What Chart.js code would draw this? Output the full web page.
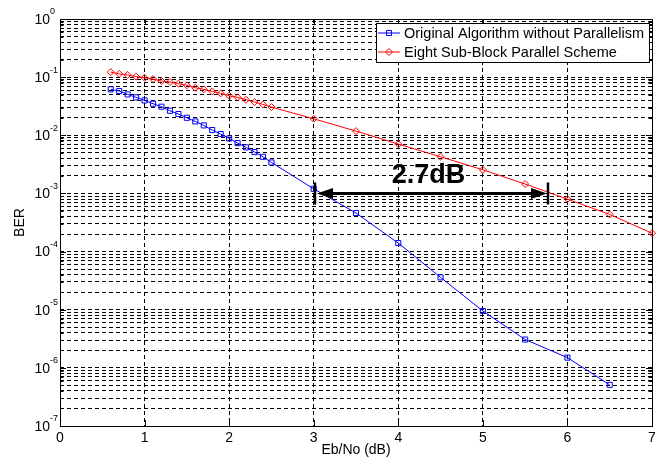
<!DOCTYPE html>
<html>
<head>
<meta charset="utf-8">
<script src="https://cdn.jsdelivr.net/npm/chart.js@4.4.0/dist/chart.umd.min.js"></script>
<style>
  html, body { margin: 0; padding: 0; background: #fff; }
  #wrap { width: 664px; height: 459px; }
</style>
</head>
<body>
<div id="wrap"><canvas id="berChart" width="664" height="459"></canvas></div>
<script>
// values
const ebNoOriginal = [0.6, 0.7, 0.8, 0.9, 1.0, 1.1, 1.2, 1.3, 1.4, 1.5, 1.6, 1.7, 1.8, 1.9, 2.0, 2.1, 2.2, 2.3, 2.4, 2.5,
                      3.0, 3.5, 4.0, 4.5, 5.0, 5.5, 6.0, 6.5];
const berOriginal = [0.0617, 0.0577, 0.0505, 0.0449, 0.0398, 0.0349, 0.031, 0.0264, 0.0232, 0.020, 0.0173, 0.0148, 0.0123, 0.0105, 0.00883,
                     0.00734, 0.0062, 0.00514, 0.00427, 0.00341,
                     0.0012, 4.6e-4, 1.40e-4, 3.6e-5, 9.5e-6, 3.07e-6, 1.5e-6, 5.1e-7];

const ebNoParallel = [0.6, 0.7, 0.8, 0.9, 1.0, 1.1, 1.2, 1.3, 1.4, 1.5, 1.6, 1.7, 1.8, 1.9, 2.0, 2.1, 2.2, 2.3, 2.4, 2.5,
                      3.0, 3.5, 4.0, 4.5, 5.0, 5.5, 6.0, 6.5, 7.0];
const berParallel = [0.122, 0.114, 0.109, 0.102, 0.0977, 0.0927, 0.0857, 0.0824, 0.077, 0.0723, 0.0657, 0.0617, 0.0569, 0.0526, 0.0479,
                     0.0449, 0.0408, 0.0373, 0.034, 0.0306,
                     0.0192, 0.0118, 0.00706, 0.00427, 0.00255, 0.00145, 7.98e-4, 4.35e-4, 2.07e-4];

const seriesNames = ['Original Algorithm without Parallelism', 'Eight Sub-Block Parallel Scheme'];
const xTicks = [0, 1, 2, 3, 4, 5, 6, 7];
const yDecades = [-7, -6, -5, -4, -3, -2, -1, 0];

// the 2.7dB gap annotation
const gainLabel = '2.7dB';
const gainFrom = 3.015;
const gainTo = 5.77;
const gainLevel = 1e-3;

const FONT = '"Liberation Sans", Arial, sans-serif';

function logTicks() {
    let out = [];
    for (const e of yDecades) {
        if (e === 0) { out.push(1); break; }
        for (let m = 1; m <= 9; m++) {
            out.push(Number((m * Math.pow(10, e)).toPrecision(3)));
        }
    }
    return out;
}

function toPoints(xs, ys) {
    return xs.map((x, i) => ({x: x, y: ys[i]}));
}

function drawMarker(ctx, style, x, y, r, color) {
    ctx.save();
    ctx.strokeStyle = color;
    ctx.lineWidth = 1;
    ctx.beginPath();
    if (style === 'rect') {
        const s = r * Math.SQRT1_2;
        ctx.rect(x - s, y - s, 2 * s, 2 * s);
    } else {
        ctx.moveTo(x, y - r);
        ctx.lineTo(x + r, y);
        ctx.lineTo(x, y + r);
        ctx.lineTo(x - r, y);
        ctx.closePath();
    }
    ctx.stroke();
    ctx.restore();
}

const matlabLook = {
    id: 'matlab_look',
    beforeDatasetsDraw: (chart) => {
        const {ctx, chartArea: a, scales} = chart;
        ctx.save();
        ctx.strokeStyle = '#000';
        ctx.lineWidth = 1;
        // inner tick marks on all four sides
        ctx.beginPath();
        for (const t of scales.y.ticks) {
            const py = Math.round(scales.y.getPixelForValue(t.value)) + 0.5;
            const len = Math.abs(Math.log10(t.value) % 1) < 1e-6 ? 6 : 3.5;
            ctx.moveTo(a.left, py); ctx.lineTo(a.left + len, py);
            ctx.moveTo(a.right, py); ctx.lineTo(a.right - len, py);
        }
        for (const v of xTicks) {
            const px = Math.round(scales.x.getPixelForValue(v)) + 0.5;
            ctx.moveTo(px, a.bottom); ctx.lineTo(px, a.bottom - 6);
            ctx.moveTo(px, a.top); ctx.lineTo(px, a.top + 6);
        }
        ctx.stroke();
        // frame
        ctx.strokeRect(Math.round(a.left) + 0.5, Math.round(a.top) + 0.5,
                       Math.round(a.right - a.left), Math.round(a.bottom - a.top));
        ctx.restore();
    },
    afterDraw: (chart) => {
        const {ctx, chartArea: a, scales} = chart;
        ctx.save();

        // y tick labels 10^n
        ctx.fillStyle = '#000';
        ctx.textBaseline = 'middle';
        for (const e of yDecades) {
            const py = scales.y.getPixelForValue(Math.pow(10, e));
            ctx.font = '14px ' + FONT;
            ctx.textAlign = 'right';
            ctx.fillText('10', a.left - 10, py + 1);
            ctx.font = '9px ' + FONT;
            ctx.textAlign = 'left';
            ctx.fillText(String(e), a.left - 10, py - 7);
        }

        // legend box
        const lx = 376, ly = 23, lw = 273, lh = 39;
        ctx.fillStyle = '#fff';
        ctx.fillRect(lx, ly, lw, lh);
        ctx.strokeStyle = '#000';
        ctx.lineWidth = 1;
        ctx.strokeRect(lx + 0.5, ly + 0.5, lw, lh);
        chart.data.datasets.forEach((ds, i) => {
            const ry = ly + 10 + i * 19;
            ctx.strokeStyle = ds.borderColor;
            ctx.beginPath();
            ctx.moveTo(lx + 2, ry);
            ctx.lineTo(lx + 24, ry);
            ctx.stroke();
            drawMarker(ctx, ds.pointStyle, lx + 13, ry, ds.pointRadius, ds.borderColor);
            ctx.fillStyle = '#000';
            ctx.font = '14.5px ' + FONT;
            ctx.textAlign = 'left';
            ctx.textBaseline = 'middle';
            ctx.fillText(ds.label, lx + 28, ry + 1);
        });

        // gain arrow
        const x1 = scales.x.getPixelForValue(gainFrom);
        const x2 = scales.x.getPixelForValue(gainTo);
        const gy = scales.y.getPixelForValue(gainLevel);
        ctx.strokeStyle = '#000';
        ctx.fillStyle = '#000';
        ctx.lineWidth = 3;
        ctx.beginPath();
        ctx.moveTo(x1 + 10, gy);
        ctx.lineTo(x2 - 10, gy);
        ctx.stroke();
        ctx.lineWidth = 2.5;
        ctx.beginPath();
        ctx.moveTo(x1, gy - 11); ctx.lineTo(x1, gy + 11);
        ctx.moveTo(x2, gy - 11); ctx.lineTo(x2, gy + 11);
        ctx.stroke();
        ctx.beginPath();
        ctx.moveTo(x1 + 2, gy); ctx.lineTo(x1 + 18, gy - 5.5); ctx.lineTo(x1 + 18, gy + 5.5); ctx.closePath();
        ctx.moveTo(x2 - 1, gy); ctx.lineTo(x2 - 17, gy - 5.5); ctx.lineTo(x2 - 17, gy + 5.5); ctx.closePath();
        ctx.fill();
        ctx.font = 'bold 27px ' + FONT;
        ctx.textAlign = 'center';
        ctx.textBaseline = 'middle';
        ctx.fillText(gainLabel, (x1 + x2) / 2 - 3, gy - 18);

        ctx.restore();
    }
};

const gridStyle = {
    color: '#000',
    lineWidth: 1,
    drawTicks: false,
    tickLength: 0
};

const ctx = document.getElementById('berChart').getContext('2d');
new Chart(ctx, {
    type: 'line',
    data: {
        datasets: [
            {
                label: seriesNames[0],
                data: toPoints(ebNoOriginal, berOriginal),
                borderColor: '#0000ff',
                backgroundColor: 'rgba(0,0,0,0)',
                borderWidth: 1,
                pointStyle: 'rect',
                pointRadius: 3.6,
                pointBorderWidth: 1,
                pointBackgroundColor: 'rgba(0,0,0,0)',
                tension: 0,
                clip: false
            },
            {
                label: seriesNames[1],
                data: toPoints(ebNoParallel, berParallel),
                borderColor: '#ff0000',
                backgroundColor: 'rgba(0,0,0,0)',
                borderWidth: 1,
                pointStyle: 'rectRot',
                pointRadius: 3.5,
                pointBorderWidth: 1,
                pointBackgroundColor: 'rgba(0,0,0,0)',
                tension: 0,
                clip: false
            }
        ]
    },
    options: {
        responsive: false,
        animation: false,
        events: [],
        layout: { padding: { top: 19, right: 12, left: 0, bottom: 0 } },
        plugins: {
            legend: { display: false },
            tooltip: { enabled: false }
        },
        scales: {
            x: {
                type: 'linear',
                min: 0,
                max: 7,
                afterBuildTicks: (scale) => { scale.ticks = xTicks.map(v => ({value: v})); },
                afterFit: (scale) => { scale.height = 33; },
                ticks: {
                    color: '#000',
                    font: { family: FONT, size: 14 },
                    padding: 4,
                    maxRotation: 0,
                    autoSkip: false
                },
                grid: gridStyle,
                border: { display: false, dash: [4, 3] },
                title: {
                    display: true,
                    text: 'Eb/No (dB)',
                    color: '#000',
                    font: { family: FONT, size: 14 },
                    padding: { top: 0, bottom: 0 }
                }
            },
            y: {
                type: 'logarithmic',
                min: 1e-7,
                max: 1,
                afterBuildTicks: (scale) => { scale.ticks = logTicks().map(v => ({value: v})); },
                afterFit: (scale) => { scale.width = 60; },
                ticks: { display: false, autoSkip: false },
                grid: gridStyle,
                border: { display: false, dash: [4, 3] },
                title: {
                    display: true,
                    text: 'BER',
                    color: '#000',
                    font: { family: FONT, size: 14 },
                    padding: { top: 12, bottom: 0 }
                }
            }
        }
    },
    plugins: [matlabLook]
});
</script>
</body>
</html>
